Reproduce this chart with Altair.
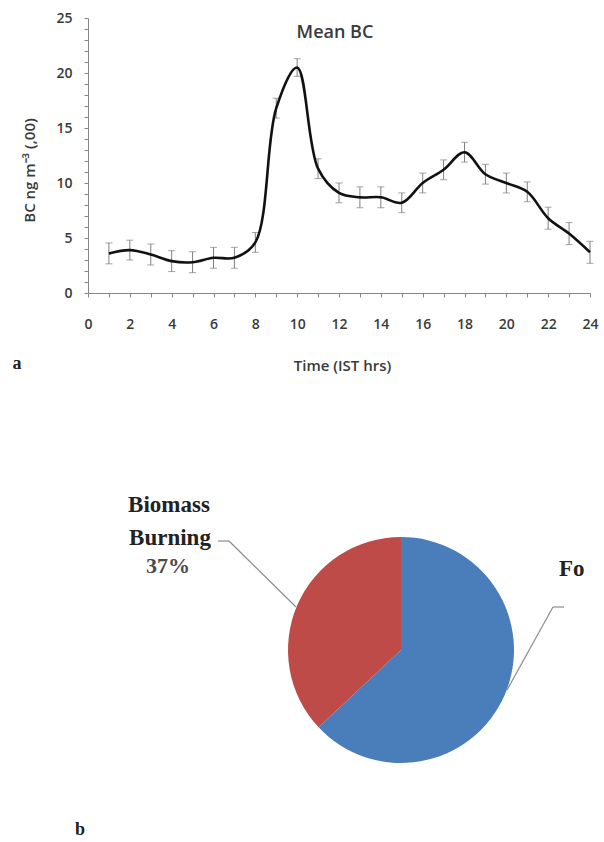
import altair as alt
import pandas as pd

# ---- data: panel a (diurnal mean BC) ----
hours = list(range(1, 25))
bc_mean = [3.6, 3.9, 3.5, 2.9, 2.8, 3.2, 3.2, 4.6, 16.8, 20.5, 11.3, 9.1,
           8.7, 8.7, 8.2, 10.0, 11.2, 12.8, 10.8, 10.0, 9.2, 6.8, 5.4, 3.7]
bc_err = [0.95, 0.9, 0.95, 0.95, 0.95, 0.95, 0.95, 0.9, 0.9, 0.8, 0.9, 0.9,
          0.95, 0.95, 0.9, 0.9, 0.9, 0.9, 0.9, 0.9, 0.9, 1.0, 1.0, 1.0]
x_tick_values = list(range(0, 25))
y_tick_values = list(range(0, 26))

# ---- data: panel b (source apportionment) ----
sources = ["Fossil Fuel", "Biomass Burning"]
shares = [63, 37]
source_order = [0, 1]
source_colors = ["#4A7EBB", "#BE4B48"]

# plot origin inside the 604x842 page
OX, OY = 88, 18
W, H = 502, 275

df = pd.DataFrame({"hour": hours, "bc": bc_mean, "err": bc_err})
df["lo"] = df["bc"] - df["err"]
df["hi"] = df["bc"] + df["err"]

FONT = "Open Sans"
TXT = "#3a3a3a"
AX = "#868686"

x_scale = alt.Scale(domain=[0, 24], nice=False, zero=False)
x_axis = alt.Axis(values=x_tick_values,
                  labelExpr="datum.value % 2 == 0 ? datum.label : ''",
                  title="Time (IST hrs)", titleFont=FONT, titleFontSize=15,
                  titleFontWeight=600, titleColor=TXT,
                  titleX=342 - OX, titleY=72, titleBaseline="middle",
                  labelFont=FONT, labelFontSize=14, labelFontWeight=600,
                  labelColor=TXT, labelPadding=20, tickSize=4,
                  tickColor=AX, domainColor=AX, grid=False,
                  labelFlush=False, labelOverlap=False)

y_scale = alt.Scale(domain=[0, 25], nice=False, zero=True)
y_axis = alt.Axis(values=y_tick_values,
                  labelExpr="datum.value % 5 == 0 ? datum.label : ''",
                  title="BC ng m⁻³ (,00)", titleFont=FONT, titleFontSize=15,
                  titleFontWeight=600, titleColor=TXT,
                  titleX=29 - OX, titleY=170 - OY, titleAngle=270,
                  titleBaseline="middle", titleAlign="center",
                  labelFont=FONT, labelFontSize=14, labelFontWeight=600,
                  labelColor=TXT, labelPadding=12, tickSize=4,
                  tickColor=AX, domainColor=AX, grid=False,
                  labelOverlap=False, labelFlush=False, labelBound=False)

def X(field):
    return alt.X(field, scale=x_scale, axis=x_axis)

def Y(field):
    return alt.Y(field, scale=y_scale, axis=y_axis)

base = alt.Chart(df)

err_rule = base.mark_rule(color="#7f7f7f", strokeWidth=1).encode(
    x=X("hour:Q"), y=Y("lo:Q"), y2="hi:Q")
cap_lo = base.mark_tick(color="#7f7f7f", orient="horizontal", size=7, thickness=1).encode(
    x=X("hour:Q"), y=Y("lo:Q"))
cap_hi = base.mark_tick(color="#7f7f7f", orient="horizontal", size=7, thickness=1).encode(
    x=X("hour:Q"), y=Y("hi:Q"))
line = base.mark_line(color="#111111", strokeWidth=2.6, interpolate="catmull-rom").encode(
    x=X("hour:Q"), y=Y("bc:Q"))

def label(text, x, y, size, weight="bold", font="Liberation Serif", color="#222222",
          align="center", baseline="middle"):
    return alt.Chart(pd.DataFrame({"t": [text]})).mark_text(
        font=font, fontSize=size, fontWeight=weight, color=color,
        align=align, baseline=baseline).encode(
        x=alt.value(x - OX), y=alt.value(y - OY), text="t:N")

mean_lbl = label("Mean BC", 335, 33, 18, weight=600, font=FONT, color=TXT)
a_lbl = label("a", 17, 364, 18)
b_lbl = label("b", 80, 830, 18)

# ---- pie ----
pie_df = pd.DataFrame({"source": sources, "share": shares, "ord": source_order})
pie = alt.Chart(pie_df).mark_arc(radius=113, stroke=None).encode(
    theta=alt.Theta("share:Q", stack=True),
    order=alt.Order("ord:Q"),
    color=alt.Color("source:N", scale=alt.Scale(domain=sources, range=source_colors),
                    legend=None),
    x=alt.value(401 - OX), y=alt.value(650 - OY))

bio1 = label("Biomass", 169, 505, 23)
bio2 = label("Burning", 170, 538, 23)
bio3 = label("37%", 168, 566, 22, color="#4a4a4a")
fo = label("Fo", 559, 569, 23, align="left")

def seg(x1, y1, x2, y2):
    return alt.Chart(pd.DataFrame({"k": [0]})).mark_rule(color="#8c8c8c", strokeWidth=1.2).encode(
        x=alt.value(x1 - OX), y=alt.value(y1 - OY),
        x2=alt.value(x2 - OX), y2=alt.value(y2 - OY))

leaders = [seg(218, 541, 229, 541), seg(229, 541, 296, 607),
           seg(553, 607, 564, 607), seg(553, 607, 507, 690)]

chart = alt.layer(err_rule, cap_lo, cap_hi, line, mean_lbl, a_lbl, b_lbl,
                  pie, bio1, bio2, bio3, fo, *leaders).properties(
    width=W, height=H,
    autosize=alt.AutoSizeParams(type="none"),
    padding={"left": OX, "top": OY, "right": 604 - OX - W, "bottom": 842 - OY - H},
    background="white",
).configure_view(stroke=None)

chart.save("out.html", embed_options={"renderer": "svg", "actions": False})
